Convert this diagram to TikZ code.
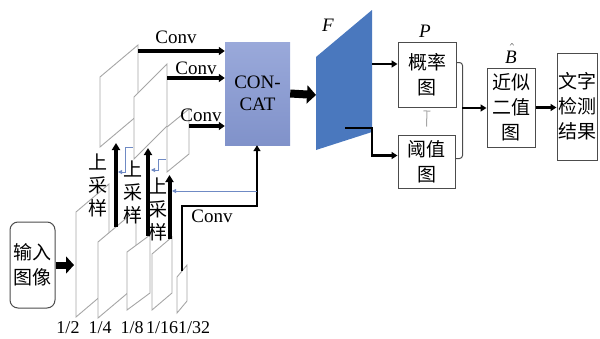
\documentclass[tikz,border=0pt]{standalone}
\usepackage{fontspec}
\setmainfont{Liberation Serif}
\newfontfamily\cjk{Noto Sans CJK SC}
\usetikzlibrary{arrows.meta,positioning}
\definecolor{catTop}{HTML}{9AA9DA}
\definecolor{catBot}{HTML}{8092CA}
\definecolor{featBlue}{HTML}{4A78BE}
\definecolor{latBlue}{HTML}{6F8AC4}
\definecolor{planeGray}{HTML}{A6A6A6}

\tikzset{
  box/.style={draw=black!70, line width=1pt, align=center, inner sep=0pt,
    font=\cjk\fontsize{19}{25}\selectfont},
  zh/.style={align=center, inner sep=0pt, font=\cjk\fontsize{19}{23}\selectfont},
  lat/.style={inner sep=0pt, font=\fontsize{19}{22}\selectfont},
  frac/.style={inner sep=0pt, font=\fontsize{18}{20}\selectfont},
  plane/.style={draw=planeGray, fill=white, line width=0.9pt},
  conv/.style={line width=3.5pt, -{Triangle[length=6pt,width=8pt]}},
  upar/.style={line width=4pt, -{Triangle[length=7pt,width=8pt]}},
  link/.style={line width=2.4pt, -{Triangle[length=6pt,width=7pt]}},
  fat/.style={line width=7pt, -{Triangle[length=8pt,width=17pt]}},
  latline/.style={draw=latBlue, line width=0.9pt, -{Triangle[length=4pt,width=4pt]}},
  bracketline/.style={draw=black!70, line width=1pt, rounded corners=3pt},
}

\begin{document}
\begin{tikzpicture}[x=1pt,y=-1pt]
  \useasboundingbox (0,0) rectangle (600,338);

  % feature maps: upper three, then backbone levels
  \foreach \x/\y/\w/\h/\r in {100/77/38/70/32, 134/97/33/62/33, 167/127/22/45/18,
      76/212/33/105/28, 98/242/38/76/32, 127/252/23/58/17, 152/254/20/56/17, 177/277/10/36/12}{
    \filldraw[plane] (\x,\y) -- ++(\w,-\r) -- ++(0,\h) -- ++(-\w,\r) -- cycle;
  }
  \node[frac] (s2) at (68,328) {1/2};
  \node[frac] (s4) at (100,328) {1/4};
  \node[frac] (s8) at (132,328) {1/8};
  \node[frac] (s16) at (162,328) {1/16};
  \node[frac] (s32) at (194,328) {1/32};

  % input
  \node[box, rounded corners=8pt, minimum width=45pt, minimum height=86pt] (inp) at (32.5,265) {输入\\图像};
  \coordinate (half) at (74,265);
  \draw[fat] (inp.east) -- (half);

  % concat and fused feature
  \node[lat, top color=catTop, bottom color=catBot, minimum width=65pt, minimum height=103pt,
    align=center, font=\fontsize{19}{22}\selectfont] (cat) at (257.5,93.5) {CON-\\CAT};
  \fill[featBlue] (316,57) -- (372,10) -- (372,132) -- (316,150) -- cycle;
  \node[lat] (flab) at (328,25) {\textit{F}};
  \coordinate (fin) at (316,95);
  \draw[fat, line width=8pt, -{Triangle[length=9pt,width=18pt]}] (cat.east) -- (fin);

  % conv from upper maps
  \coordinate (ca) at (138,51);
  \coordinate (cb) at (167,78);
  \coordinate (cc) at (189,126);
  \draw[conv] (ca) -- (ca -| cat.west);
  \draw[conv] (cb) -- (cb -| cat.west);
  \draw[conv] (cc) -- (cc -| cat.west);
  \node[lat] (conva) at (176,37) {Conv};
  \node[lat] (convb) at (196,68) {Conv};
  \node[lat] (convc) at (201,115) {Conv};

  % conv from 1/32
  \coordinate (c32) at (182,271);
  \coordinate (cbend) at (257,206);
  \draw[link, line width=2.2pt] (c32) |- (cbend) -- (cbend |- cat.south);
  \node[lat] (convd) at (212,216) {Conv};

  % upsampling
  \coordinate (u1a) at (116,227);
  \coordinate (u1b) at (116,143);
  \coordinate (u2a) at (148,236);
  \coordinate (u2b) at (148,148);
  \coordinate (u3a) at (169.5,239);
  \coordinate (u3b) at (169.5,175);
  \draw[upar] (u1a) -- (u1b);
  \draw[upar] (u2a) -- (u2b);
  \draw[upar] (u3a) -- (u3b);
  \node[zh] (up1) at (98,185) {上\\采\\样};
  \node[zh] (up2) at (133,192) {上\\采\\样};
  \node[zh] (up3) at (158,209) {上\\采\\样};

  % lateral links
  \coordinate (l1s) at (133,147);
  \coordinate (l1e) at (118,172);
  \coordinate (l2s) at (166,159);
  \coordinate (l2e) at (151,170);
  \coordinate (l3s) at (257,191);
  \coordinate (l3e) at (172,191);
  \draw[latline] (l1s) -- ++(-8,0) |- (l1e);
  \draw[latline] (l2s) -- ++(-8,0) |- (l2e);
  \draw[latline] (l3s) -- (l3e);

  % maps
  \node[box, minimum width=58pt, minimum height=65pt] (pmap) at (427,74.5) {概率\\图};
  \node[box, minimum width=57pt, minimum height=53pt] (tmap) at (426.5,161.5) {阈值\\图};
  \node[box, minimum width=48pt, minimum height=79pt] (bmap) at (511,107.5) {近似\\二值\\图};
  \node[box, minimum width=40pt, minimum height=107pt] (res) at (577,106.5) {文字\\检测\\结果};
  \node[lat] (plab) at (425,31) {\textit{P}};
  \node[lat, anchor=south] (blab) at (511,64)
    {\rlap{\raisebox{4pt}{$\hat{\phantom{B}}$}}\textit{B}};

  \coordinate (fp) at (372,64);
  \coordinate (ft) at (345,128);
  \draw[link] (fp) -- (fp -| pmap.west);
  \draw[link] (ft) -- ++(27,0) |- ([yshift=6pt]tmap.west);
  \draw[gray!70, line width=1pt, -{Bar[width=7pt]}] ([yshift=8pt]tmap.north) -- ([yshift=-3pt]pmap.south);
  \draw[bracketline] ([yshift=12pt]pmap.east) -- ++(6,0) |- ([yshift=3pt]tmap.east);
  \coordinate (bmid) at (462,108);
  \draw[link] (bmid) -- (bmid -| bmap.west);
  \draw[link] (bmap.east) -- (bmap.east -| res.west);
\end{tikzpicture}
\end{document}
